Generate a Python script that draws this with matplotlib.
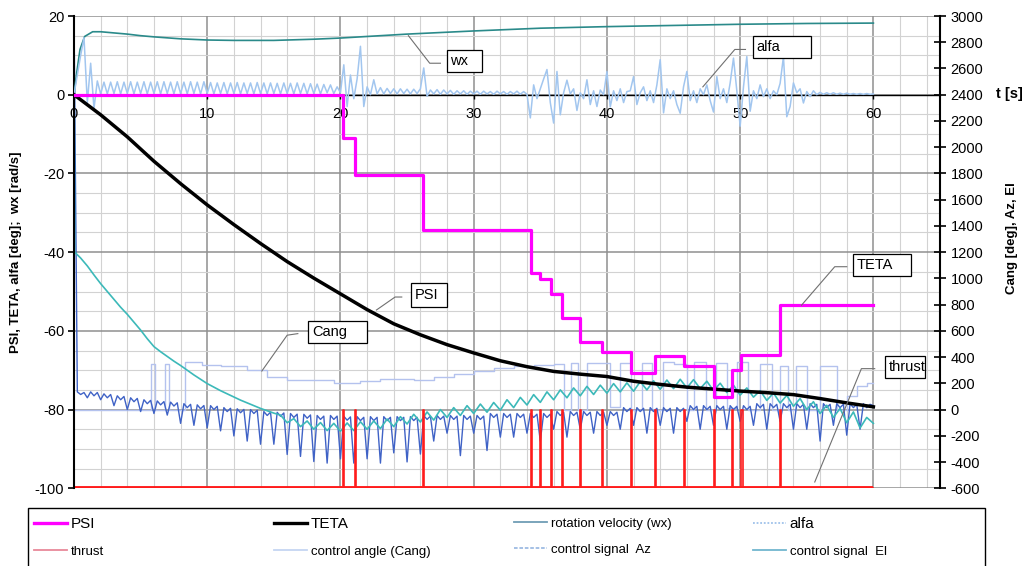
import numpy as np
import matplotlib
matplotlib.use("Agg")
import matplotlib.pyplot as plt
from matplotlib.lines import Line2D
from matplotlib.patches import Rectangle

plt.rcParams['font.family'] = ['Liberation Sans', 'DejaVu Sans']
plt.rcParams['axes.unicode_minus'] = False

# ---------------- left axis series (deg, rad/s) ----------------
psi_t = [0, 20.2, 21.1, 26.2, 34.3, 35.0, 35.8, 36.6, 38.0, 39.6, 41.8, 43.6,
         45.8, 48.0, 49.4, 50.1, 53.0, 60]
psi_v = [0, -11.0, -20.4, -34.4, -45.4, -46.7, -50.7, -56.7, -62.8, -65.3, -70.6,
         -66.4, -69.0, -76.8, -70.0, -66.2, -53.4, -53.4]

teta_t = list(range(0, 61, 2))
teta_v = [0, -5.1, -10.7, -16.9, -22.6, -28.0, -33.0, -37.8, -42.4, -46.6, -50.6,
          -54.6, -58.2, -61.0, -63.5, -65.6, -67.6, -69.1, -70.3, -71.0, -71.6,
          -72.8, -73.6, -74.3, -74.8, -75.3, -75.7, -76.2, -77.2, -78.3, -79.3]

wx_t = [0, 0.2, 0.45, 0.8, 1.4, 2, 3, 4, 5, 6, 8, 10, 12, 15, 18, 20, 25, 30,
        35, 40, 45, 50, 55, 60]
wx_v = [0, 5.5, 11.5, 14.8, 16.0, 16.0, 15.7, 15.4, 15.0, 14.7, 14.2, 13.9, 13.8,
        13.8, 14.1, 14.4, 15.4, 16.2, 16.9, 17.3, 17.6, 17.9, 18.1, 18.2]

# angle of attack, sampled every 0.25 s
alfa_dt = 0.25
alfa_v = [
    0, 5, 10, 14.5, -2, 8, -3.5, 3.5, 0.2, 3.2, 0.2, 3.2, 0.3, 3.3, 0.2, 3.2, 0.3, 3.3, 0.2, 3.2,
    0.3, 3.3, 0.2, 3.2, 0.3, 3.3, 0.2, 3.3, 0.3, 3.2, 0.2, 3.3, 0.3, 3.2, 0.2, 3.3, 0.3, 3.2, 0.2, 3.3,
    0.3, 3.1, 0.2, 3.0, 0.3, 3.1, 0.2, 3.0, 0.3, 3.1, 0.2, 3.0, 0.3, 3.0, 0.2, 3.1, 0.3, 3.0, 0.2, 3.0,
    0.3, 2.9, 0.2, 3.0, 0.3, 2.9, 0.2, 3.0, 0.3, 2.9, 0.2, 2.8, 0.3, 2.7, 0.2, 2.6, 0.5, 2.5, 0.3, 2.0,
    0.5, 7.6, -3.0, 5.0, -1.0, 4.0, 12.3, -3.0, 2.0, 0.0, 3.8, 0.2, 1.8, 0.2, 1.6, 0.3, 1.5, 0.2, 1.5, 0.3,
    1.4, 0.2, 1.4, 0.3, 1.5, 6.8, -0.4, 1.2, 0.2, 1.3, 0.1, 1.2, 0.2, 1.1, 0.1, 1.0, 0.2, 1.0, 0.1, 0.9,
    0.2, 0.9, 0.1, 0.9, 0.2, 0.8, 0.1, 0.9, 0.2, 0.8, 0.1, 0.8, 0.2, 0.9, 0.1, 0.8, 0.1, -5.9, 2.5, -1.0,
    1.5, 4.0, 6.4, -2.0, -7.2, 5.9, -5.1, 0.5, 3.7, 0.2, 1.5, -4.0, 0.5, -1.0, 3.8, -2.5, 1.0, -3.0, 1.2, 0.0,
    5.9, -3.1, 1.0, -1.5, 1.5, -2.0, 0.8, 1.0, 4.6, -2.5, 0.5, 2.0, -1.5, 1.0, -2.0, 2.5, 8.9, -4.6, 1.5, -1.0,
    1.0, -2.5, -4.7, 2.0, 5.9, -1.5, 1.0, -2.0, 1.5, 0.0, 2.5, -1.5, -4.4, 4.6, -1.0, 1.5, -2.0, 3.0, 9.3, 1.0,
    -8.0, 2.0, 9.7, -4.2, 1.0, -1.0, 2.5, -0.5, 1.5, -1.0, 1.0, 0.0, 2.9, 9.7, -5.6, -3.0, 3.0, 0.5, 1.5, -2.1,
    0.8, -0.5, 1.0, 0.0, 0.6, 0.1, 0.5, 0.1, 0.5, 0.1, 0.4, 0.1, 0.4, 0.1, 0.3, 0.1, 0.3, 0.1, 0.3, 0.1,
    0.2,
]

# thrust pulses (left axis scale): off level / on level
thrust_pulse_t = [20.2, 21.1, 26.2, 34.3, 35.0, 35.8, 36.6, 38.0, 39.6, 41.8, 43.6,
                  45.8, 48.0, 49.4, 50.1, 53.0]
thrust_off, thrust_on = -100, -80
thrust_span = [0, 60]
thrust_pulse_w = 0.08

# ---------------- right axis series ----------------
cang_t = [0, 5.8, 6.05, 6.85, 7.1, 8.35, 9.6, 11.0, 13.0, 14.5, 16.0, 19.5, 21.5,
          23.0, 25.5, 27.0, 28.5, 30.0, 31.5, 33.0, 34.5, 36.0, 36.8, 37.3, 37.8,
          38.5, 40.2, 41.0, 41.8, 42.6, 43.4, 44.2, 45.0, 46.0, 46.5, 47.4, 48.2,
          49.0, 49.8, 50.6, 51.5, 52.4, 53.0, 53.6, 54.2, 55.0, 56.0, 57.3, 58.0,
          58.8, 59.5, 60]
cang_v = [0, 345, 0, 345, 0, 360, 340, 330, 300, 250, 225, 200, 215, 230, 225,
          250, 270, 295, 315, 330, 340, 350, 0, 355, 0, 355, 20, 355, 0, 355, 0,
          360, 350, 0, 360, 0, 355, 10, 360, 0, 350, 0, 330, 0, 330, 0, 330, 0,
          100, 180, 200, 200]

# azimuth control signal, sampled every 0.25 s
az_dt = 0.25
az_v = [
    3000, 135, 115, 130, 90, 135, 105, 130, 75, 120, 90, 115, 30, 105, 75, 100, 0, 90, 60, 85,
    -15, 75, 45, 70, -30, 66, 36, 61, -42, 57, 27, 52, -105, 45, 15, 40, -120, 36, 6, 31,
    -138, 30, 0, 25, -162, 15, -15, 10, -201, 6, -24, 1, -240, 0, -30, -5, -264, -15, -45, -20,
    -264, -21, -51, -26, -342, -30, -60, -35, -357, -36, -66, -41, -396, -45, -75, -50, -408, -45, -75, -50,
    -375, -51, -81, -56, -408, -54, -84, -59, -375, -54, -84, -59, -408, -54, -84, -59, -330, -54, -84, -59,
    -399, -54, -84, -59, -339, -45, -75, -50, -240, -45, -75, -50, -180, -45, -75, -50, -351, -45, -75, -50,
    -180, -45, -75, -50, -312, -30, -60, -35, -210, -30, -60, -35, -210, -30, -60, -35, -180, -30, -60, -35,
    -240, -30, -60, -35, -150, -15, -45, -20, -210, -15, -45, -20, -150, -15, -45, -20, -180, -15, -45, -20,
    -120, -15, -45, -20, -150, 15, -15, 10, -120, 15, -15, 10, -180, 15, -15, 10, -120, 15, -15, 10,
    -180, 15, -15, 10, -90, 30, 0, 25, -150, 30, 0, 25, -120, 30, 0, 25, -150, 30, 0, 25,
    -90, 30, 0, 25, -120, 45, 15, 40, -150, 45, 15, 40, -90, 45, 15, 40, -150, 45, 15, 40,
    -150, 45, 15, 40, -240, 45, 15, 40, -120, 45, 15, 40, -195, 45, 15, 40, -150, 45, 15, 40,
    30,
]

# elevation control signal
el_t = [0, 0.05] + [0.5 * k for k in range(1, 121)]
el_v = [
    3000, 1200,
    1155, 1095, 1026, 960, 900, 840, 780, 726, 666, 606,
    540, 480, 441, 405, 369, 336, 300, 264, 231, 198,
    171, 144, 120, 96, 72, 51, 30, 9, -9, -27,
    -42, -100, -69, -130, -87, -150, -99, -160, -105, -165,
    -102, -160, -93, -150, -87, -145, -72, -130, -54, -110,
    -36, -95, -18, -80, 0, -60, 15, -45, 30, -30,
    42, -20, 54, -5, 75, 15, 93, 35, 114, 55,
    135, 75, 150, 90, 165, 105, 177, 115, 186, 125,
    198, 135, 204, 140, 213, 150, 219, 155, 225, 160,
    231, 165, 228, 160, 216, 145, 201, 130, 186, 110,
    165, 95, 144, 70, 126, 50, 108, 25, 84, 0,
    60, -30, 33, -60, 9, -100, -18, -140, -60, -105,
]

# ---------------- figure ----------------
W, H = 1026, 566
fig = plt.figure(figsize=(W / 100, H / 100), dpi=100)
ax = fig.add_axes([74 / W, 1 - 488.3 / H, 866 / W, 472.3 / H])
ax2 = ax.twinx()
ax.set_zorder(ax2.get_zorder() + 1)
ax.patch.set_visible(False)

ax.set_xlim(0, 65)
ax.set_ylim(-100, 20)
ax2.set_ylim(-600, 3000)

# grid (drawn on the lower axes so every curve sits above it)
minor_c, major_c = '#d2d2d2', '#8f8f8f'
for t in np.arange(2, 65, 2):
    major = (t % 10 == 0)
    ax2.axvline(t, color=major_c if major else minor_c, lw=1.1 if major else 0.8, zorder=0)
for r in np.arange(-600, 3001, 150):
    major = ((r + 600) % 600 == 0)
    ax2.axhline(r, color=major_c if major else minor_c, lw=1.1 if major else 0.8, zorder=0)

# right-axis curves
ax2.plot(cang_t, cang_v, drawstyle='steps-post', color='#b4c2ee', lw=1.0, zorder=2)
az_t = np.arange(len(az_v)) * az_dt
ax2.plot(az_t, az_v, color='#3f62c6', lw=1.0, zorder=3)
ax2.plot(el_t, el_v, color='#3cb9b9', lw=1.2, zorder=4)

# left-axis curves
tt, tv = [thrust_span[0]], [thrust_off]
for tp in thrust_pulse_t:
    tt += [tp, tp, tp + thrust_pulse_w, tp + thrust_pulse_w]
    tv += [thrust_off, thrust_on, thrust_on, thrust_off]
tt.append(thrust_span[1])
tv.append(thrust_off)
ax.plot(tt, tv, color='#ff1c1c', lw=1.2, zorder=2)
ax.hlines(thrust_off, thrust_span[0], thrust_span[1], color='#ff1c1c', lw=2.8, zorder=2)

ax.plot(wx_t, wx_v, color='#2a8a8a', lw=1.2, zorder=3)
alfa_t = np.arange(len(alfa_v)) * alfa_dt
ax.plot(alfa_t, alfa_v, color='#a2c6ef', lw=1.1, zorder=3)
ax.plot(teta_t, teta_v, color='black', lw=2.5, zorder=4)
ax.plot(psi_t, psi_v, drawstyle='steps-post', color='#ff00ff', lw=2.3, zorder=5)

# axes styling
for s in ['top', 'right']:
    ax.spines[s].set_visible(False)
ax.spines['left'].set_linewidth(1.5)
ax.spines['bottom'].set_position(('data', 0))
ax.spines['bottom'].set_linewidth(1.0)
for s in ['top', 'left', 'bottom']:
    ax2.spines[s].set_visible(False)
ax2.spines['right'].set_linewidth(1.5)

ax.set_xticks(range(0, 61, 10))
ax.tick_params(axis='x', direction='out', length=3, width=1, pad=6, labelsize=10.5)
ax.set_yticks(range(-100, 21, 20))
ax.tick_params(axis='y', direction='out', length=4, width=1.2, pad=3, labelsize=10.5)
ax2.set_yticks(range(-600, 3001, 200))
ax2.tick_params(axis='y', direction='inout', length=9, width=1.2, pad=3, labelsize=10.5)

ax.set_ylabel('PSI, TETA, alfa [deg];  wx [rad/s]', fontweight='bold', fontsize=9.5)
ax.yaxis.label.set_va('center')
ax.yaxis.set_label_coords((16 - 74) / 866, (488.3 - 252) / 472.3)
ax2.set_ylabel('Cang [deg], Az, El', fontweight='bold', fontsize=9.5, rotation=90)
ax2.yaxis.label.set_va('center')
ax2.yaxis.set_label_coords((1012.5 - 74) / 866, 0.53)
fig.text(1009 / W, 1 - 93.5 / H, 't [s]', ha='center', va='center',
         fontweight='bold', fontsize=10.5)

# callout labels: text, curve point, elbow, leader end, box (x0, y0, x1, y1)
callouts = [
    ('wx', (25.1, 15.0), (26.7, 8.0), (27.5, 8.0), (28.0, 5.7, 30.6, 11.4)),
    ('alfa', (47.2, 2.0), (49.6, 11.5), (50.4, 11.5), (51.0, 9.3, 55.3, 14.9)),
    ('PSI', (22.7, -54.7), (24.1, -51.4), (24.6, -51.4), (25.3, -53.9, 28.0, -47.95)),
    ('Cang', (14.1, -70.2), (16.0, -61.1), (16.8, -60.7), (17.6, -63.2, 22.0, -57.5)),
    ('TETA', (54.6, -53.5), (57.1, -43.7), (58.0, -43.7), (58.5, -46.1, 62.8, -40.5)),
    ('thrust', (55.6, -98.4), (59.1, -69.6), (60.1, -69.6), (60.9, -71.9, 63.9, -66.4)),
]
for text, p, e, q, (x0, y0, x1, y1) in callouts:
    ax.plot([p[0], e[0], q[0]], [p[1], e[1], q[1]], color='#707070', lw=0.8, zorder=6)
    ax.add_patch(Rectangle((x0, y0), x1 - x0, y1 - y0, facecolor='white',
                           edgecolor='black', lw=0.9, zorder=7))
    ax.text(x0 + 0.25, (y0 + y1) / 2, text, ha='left', va='center',
            fontsize=10.5, zorder=8)

# legend: four columns inside one framed box
legend_cols = [
    [('PSI', dict(color='#ff00ff', lw=2.4), 11),
     ('thrust', dict(color='#e8899a', lw=1.3), 9.5)],
    [('TETA', dict(color='black', lw=2.4), 11),
     ('control angle (Cang)', dict(color='#c5d6f2', lw=1.3), 9.5)],
    [('rotation velocity (wx)', dict(color='#6f9db5', lw=1.3), 9.5),
     ('control signal  Az', dict(color='#9dbbe3', lw=1.3, ls=(0, (2, 1))), 9.5)],
    [('alfa', dict(color='#9fc2ea', lw=1.3, ls=(0, (1, 1))), 11),
     ('control signal  El', dict(color='#72b6cf', lw=1.3), 9.5)],
]
col_x = [34, 274, 514, 753]
for cx, entries in zip(col_x, legend_cols):
    handles = [Line2D([], [], **st) for _, st, _ in entries]
    leg = fig.legend(handles, [lab for lab, _, _ in entries], loc='upper left',
                     bbox_to_anchor=(cx / W, 1 - 517 / H), bbox_transform=fig.transFigure,
                     frameon=False, borderpad=0, borderaxespad=0, handlelength=2.4,
                     handletextpad=0.25, labelspacing=1.0, fontsize=10)
    for txt, (_, _, fs) in zip(leg.get_texts(), entries):
        txt.set_fontsize(fs)

fig.add_artist(Rectangle((28 / W, 1 - 580 / H), 957 / W, 72 / H, transform=fig.transFigure,
                         fill=False, edgecolor='black', lw=1.0))

fig.savefig('out.png', dpi=100)
